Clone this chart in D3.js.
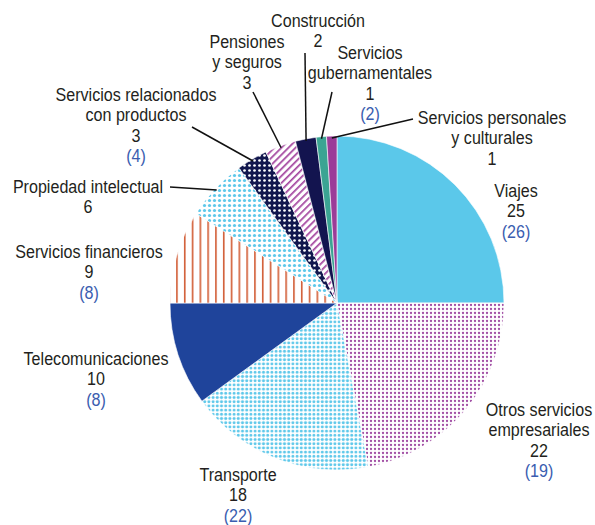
<!DOCTYPE html>
<html>
<head>
<meta charset="utf-8">
<script src="https://cdn.jsdelivr.net/npm/d3@7"></script>
<style>
  html, body { margin: 0; padding: 0; background: #fff; }
  svg { display: block; }
  text { font-family: "Liberation Sans", Arial, sans-serif; font-size: 18.5px; }
</style>
</head>
<body>
<svg id="chart" width="595" height="525"></svg>
<script>
// Composition of services trade (per cent), with earlier shares in brackets
const categories = [
  "Viajes", "Otros servicios empresariales", "Transporte", "Telecomunicaciones",
  "Servicios financieros", "Propiedad intelectual", "Servicios relacionados con productos",
  "Pensiones y seguros", "Construcción", "Servicios gubernamentales",
  "Servicios personales y culturales"
];
const shares = [25, 22, 18, 10, 9, 6, 3, 3, 2, 1, 1];
const previousShares = [26, 19, 22, 8, 8, null, 4, null, null, 2, null];

// Label text broken over lines
const labelLines = [
  ["Viajes"], ["Otros servicios", "empresariales"], ["Transporte"], ["Telecomunicaciones"],
  ["Servicios financieros"], ["Propiedad intelectual"], ["Servicios relacionados", "con productos"],
  ["Pensiones", "y seguros"], ["Construcción"], ["Servicios", "gubernamentales"],
  ["Servicios personales", "y culturales"]
];

// Layout: label anchors (centre x, first baseline y) and optional leader-line starts
const layout = [
  { x: 516, y: 197 },
  { x: 539, y: 416 },
  { x: 238, y: 481 },
  { x: 96,  y: 365 },
  { x: 89,  y: 258 },
  { x: 88,  y: 193, lead: [170, 187] },
  { x: 136, y: 101, lead: [192, 127] },
  { x: 247, y: 48,  lead: [253, 92] },
  { x: 318, y: 27,  lead: [305, 53] },
  { x: 370, y: 59,  lead: [332, 92] },
  { x: 492, y: 124, lead: [413, 119] }
];

const svg = d3.select("#chart");
const defs = svg.append("defs");

// Fill patterns
function dotPattern(id, size, r, color, bg) {
  const p = defs.append("pattern").attr("id", id).attr("patternUnits", "userSpaceOnUse")
    .attr("width", size).attr("height", size);
  p.append("rect").attr("width", size).attr("height", size).attr("fill", bg);
  p.append("circle").attr("cx", size / 2).attr("cy", size / 2).attr("r", r).attr("fill", color);
}
dotPattern("dotsPurple", 4, 1.15, "#a24fa5", "#fff");
dotPattern("dotsBlueSmall", 4.2, 1.5, "#5ec8ea", "#fff");
dotPattern("dotsBlueLarge", 5, 1.6, "#5ec8ea", "#fff");
dotPattern("dotsNavy", 5, 1.35, "#fff", "#12174e");

const vp = defs.append("pattern").attr("id", "vlines").attr("patternUnits", "userSpaceOnUse")
  .attr("width", 7.8).attr("height", 10);
vp.append("rect").attr("width", 7.8).attr("height", 10).attr("fill", "#fff");
vp.append("rect").attr("x", 3).attr("width", 1.5).attr("height", 10).attr("fill", "#cf5127");

const dp = defs.append("pattern").attr("id", "diag").attr("patternUnits", "userSpaceOnUse")
  .attr("width", 5).attr("height", 5).attr("patternTransform", "rotate(45)");
dp.append("rect").attr("width", 5).attr("height", 5).attr("fill", "#fff");
dp.append("rect").attr("width", 1.7).attr("height", 5).attr("fill", "#a3459f");

const fills = [
  "#5bc8ea", "url(#dotsPurple)", "url(#dotsBlueSmall)", "#1f449b",
  "url(#vlines)", "url(#dotsBlueLarge)", "url(#dotsNavy)", "url(#diag)",
  "#13144f", "#3ba493", "#9b3c98"
];

const cx = 337, cy = 303, radius = 167;
const g = svg.append("g").attr("transform", `translate(${cx},${cy})`);

const pie = d3.pie().sort(null).value(d => d)(shares);
const arc = d3.arc().innerRadius(0).outerRadius(radius);

g.selectAll("path.slice").data(pie).join("path")
  .attr("class", "slice")
  .attr("d", arc)
  .attr("fill", (d, i) => fills[i])
  .attr("stroke", "#fff")
  .attr("stroke-width", 0.6);

// Leader lines from labels to the slice edges
pie.forEach((d, i) => {
  const L = layout[i];
  if (!L.lead) return;
  const mid = (d.startAngle + d.endAngle) / 2;
  const ex = cx + Math.sin(mid) * (radius - 2);
  const ey = cy - Math.cos(mid) * (radius - 2);
  svg.append("line")
    .attr("x1", L.lead[0]).attr("y1", L.lead[1])
    .attr("x2", ex).attr("y2", ey)
    .attr("stroke", "#111").attr("stroke-width", 1.5);
});

// Labels: name lines, current share, earlier share in blue (set in a narrow face)
const lh = 20.5;
const narrow = 0.87;
categories.forEach((c, i) => {
  const L = layout[i];
  const t = svg.append("g")
    .attr("transform", `translate(${L.x},0) scale(${narrow},1)`)
    .append("text").attr("text-anchor", "middle");
  const rows = labelLines[i].map(s => ({ s, color: "#231f20" }));
  rows.push({ s: String(shares[i]), color: "#231f20" });
  if (previousShares[i] != null) rows.push({ s: `(${previousShares[i]})`, color: "#3a5db0" });
  rows.forEach((r, k) => {
    t.append("tspan").attr("x", 0).attr("y", L.y + k * lh).attr("fill", r.color).text(r.s);
  });
});
</script>
</body>
</html>
